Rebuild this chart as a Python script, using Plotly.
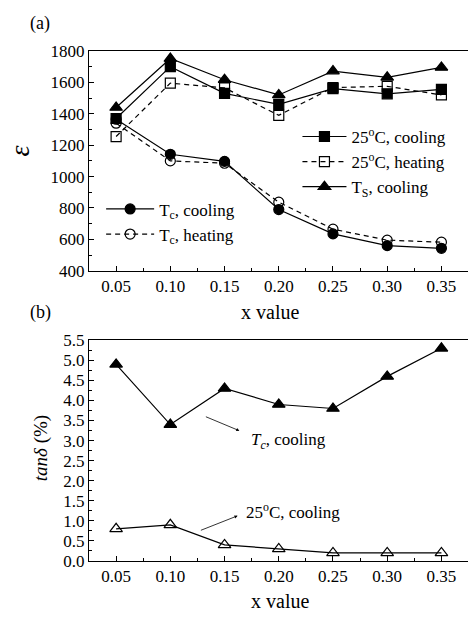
import plotly.graph_objects as go

x_vals = [0.05, 0.10, 0.15, 0.20, 0.25, 0.30, 0.35]

# Panel (a): permittivity
eps_25c_cool = [1370, 1700, 1530, 1460, 1560, 1527, 1555]
eps_25c_heat = [1255, 1595, 1565, 1390, 1567, 1575, 1520]
eps_ts_cool = [1440, 1752, 1617, 1520, 1672, 1632, 1695]
eps_tc_cool = [1365, 1142, 1097, 790, 635, 560, 543]
eps_tc_heat = [1340, 1100, 1085, 837, 665, 595, 582]

# Panel (b): tan delta (%)
tan_tc_cool = [4.9, 3.4, 4.3, 3.9, 3.8, 4.6, 5.3]
tan_25c_cool = [0.8, 0.9, 0.4, 0.3, 0.2, 0.2, 0.2]

FONT = "Liberation Serif, Times New Roman, serif"
BLACK = "black"
LW = 1.2

fig = go.Figure()

def add(y, name, symbol, dash, xa, ya, legend=None, show=True, size=10):
    fig.add_trace(go.Scatter(
        x=x_vals, y=y, name=name, mode="lines+markers",
        line=dict(color=BLACK, width=LW, dash=dash),
        marker=dict(symbol=symbol, size=size, color=BLACK,
                    line=dict(color=BLACK, width=1.2)),
        xaxis=xa, yaxis=ya, legend=legend, showlegend=show,
    ))

add(eps_25c_cool, "25<sup>o</sup>C, cooling", "square", "solid", "x", "y", "legend", size=10)
add(eps_25c_heat, "25<sup>o</sup>C, heating", "square-open", "5px,4px", "x", "y", "legend", size=10)
add(eps_ts_cool, "T<sub>S</sub>, cooling", "triangle-up", "solid", "x", "y", "legend", size=11)
add(eps_tc_cool, "T<sub>c</sub>, cooling", "circle", "solid", "x", "y", "legend2", size=10)
add(eps_tc_heat, "T<sub>c</sub>, heating", "circle-open", "5px,4px", "x", "y", "legend2", size=10)

add(tan_tc_cool, "Tc cooling", "triangle-up", "solid", "x2", "y2", show=False, size=11)
add(tan_25c_cool, "25C cooling", "triangle-up-open", "solid", "x2", "y2", show=False, size=11)

tickfont = dict(family=FONT, size=17, color=BLACK)

xcommon = dict(
    range=[0.025, 0.3745], tick0=0.05, dtick=0.05, tickformat=".2f",
    ticks="inside", ticklen=5, tickwidth=1, tickcolor=BLACK,
    minor=dict(dtick=0.025, tick0=0.025, ticks="inside", ticklen=3, tickcolor=BLACK),
    showline=True, linecolor=BLACK, linewidth=1, mirror=True,
    showgrid=False, zeroline=False, tickfont=tickfont,
    domain=[0, 1],
)

fig.update_layout(
    width=468, height=623,
    margin=dict(l=89, r=0, t=0, b=0),
    paper_bgcolor="white", plot_bgcolor="white",
    font=dict(family=FONT, color=BLACK),
    xaxis=dict(**xcommon, anchor="y"),
    yaxis=dict(domain=[0.5666, 0.9305], range=[400, 1800], dtick=200,
               ticks="inside", ticklen=5, tickcolor=BLACK,
               minor=dict(dtick=100, ticks="inside", ticklen=3, tickcolor=BLACK),
               showline=True, linecolor=BLACK, linewidth=1,
               showgrid=False, zeroline=False, tickfont=tickfont, anchor="x"),
    xaxis2=dict(**xcommon, anchor="y2"),
    yaxis2=dict(domain=[0.0862, 0.4515], range=[0, 5.5], dtick=0.5, tickformat=".1f",
                ticks="inside", ticklen=5, tickcolor=BLACK,
                minor=dict(dtick=0.25, ticks="inside", ticklen=3, tickcolor=BLACK),
                showline=True, linecolor=BLACK, linewidth=1,
                showgrid=False, zeroline=False, tickfont=tickfont, anchor="x2"),
    legend=dict(x=0.55, y=0.818, xanchor="left", yanchor="top",
                bgcolor="rgba(0,0,0,0)", font=dict(family=FONT, size=17),
                itemwidth=44, tracegroupgap=0),
    legend2=dict(x=0.032, y=0.698, xanchor="left", yanchor="top",
                 bgcolor="rgba(0,0,0,0)", font=dict(family=FONT, size=17),
                 itemwidth=48, tracegroupgap=0),
)

def ypx(p):
    return (623 - p) / 623

def xpx(p):
    return (p - 89) / 379

ann = []
ann.append(dict(text="(a)", xref="paper", yref="paper", x=xpx(28), y=ypx(15),
                showarrow=False, font=dict(family=FONT, size=18), xanchor="left", yanchor="middle"))
ann.append(dict(text="(b)", xref="paper", yref="paper", x=xpx(28), y=ypx(313),
                showarrow=False, font=dict(family=FONT, size=18), xanchor="left", yanchor="middle"))
ann.append(dict(text="x value", xref="paper", yref="paper", x=xpx(270), y=ypx(313),
                showarrow=False, font=dict(family=FONT, size=20), xanchor="center", yanchor="middle"))
ann.append(dict(text="x value", xref="paper", yref="paper", x=xpx(280), y=ypx(611),
                showarrow=False, font=dict(family=FONT, size=20), xanchor="center", yanchor="middle"))
ann.append(dict(text="<i>ε</i>", xref="paper", yref="paper", x=xpx(20), y=ypx(147),
                showarrow=False, textangle=-90, font=dict(family=FONT, size=28),
                xanchor="center", yanchor="middle"))
ann.append(dict(text="<i>tanδ</i> (%)", xref="paper", yref="paper", x=xpx(41), y=ypx(453),
                showarrow=False, textangle=-90, font=dict(family=FONT, size=19),
                xanchor="center", yanchor="middle"))
# arrows in panel (b)
ann.append(dict(text="", xref="x2", yref="y2", x=0.1637, y=3.245, axref="x2", ayref="y2",
                ax=0.1314, ay=3.61, showarrow=True, arrowhead=2, arrowsize=0.8, arrowwidth=0.8,
                arrowcolor=BLACK))
ann.append(dict(text="<i>T<sub>c</sub></i>, cooling", xref="x2", yref="y2", x=0.2089, y=3.0,
                showarrow=False, font=dict(family=FONT, size=17)))
ann.append(dict(text="", xref="x2", yref="y2", x=0.1621, y=1.126, axref="x2", ayref="y2",
                ax=0.1268, ay=0.749, showarrow=True, arrowhead=2, arrowsize=0.8, arrowwidth=0.8,
                arrowcolor=BLACK))
ann.append(dict(text="25<sup>o</sup>C, cooling", xref="x2", yref="y2", x=0.2128, y=1.256,
                showarrow=False, font=dict(family=FONT, size=17)))
fig.update_layout(annotations=ann)

fig.write_html("out.html")
